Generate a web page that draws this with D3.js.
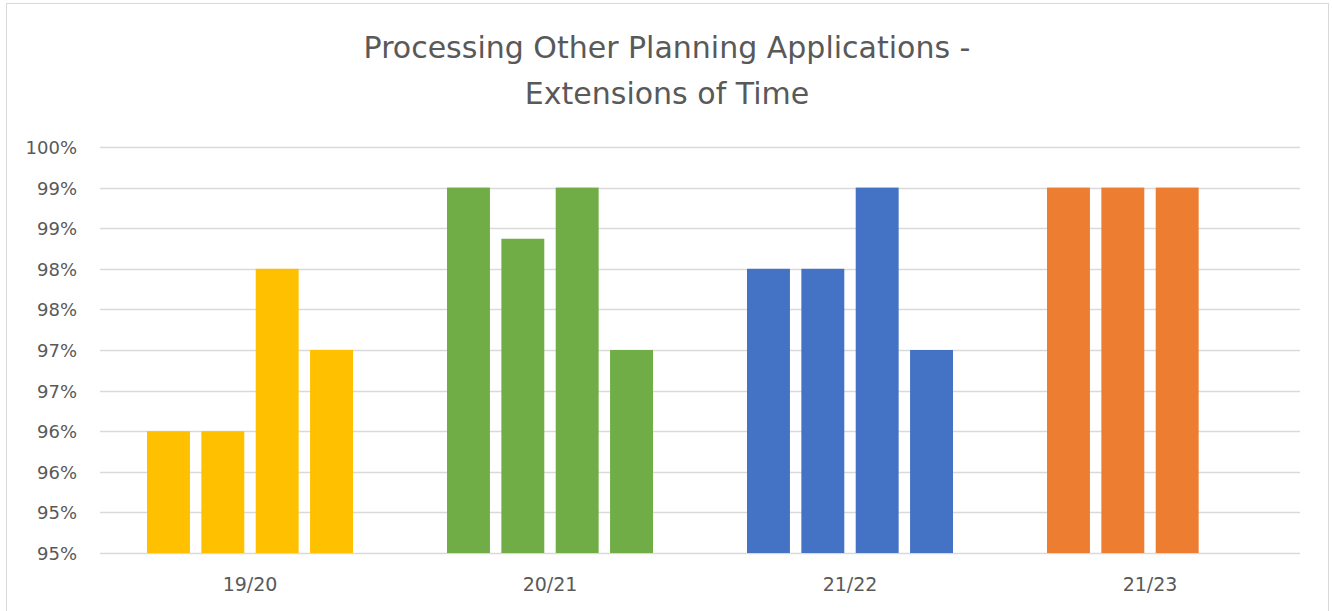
<!DOCTYPE html>
<html><head><meta charset="utf-8">
<script src="https://cdn.jsdelivr.net/npm/d3@7"></script>
<style>body{margin:0;background:#fff;} svg{display:block;}</style>
</head><body>
<svg id="c" width="1332" height="611"></svg>
<script>
const categories = ["19/20", "20/21", "21/22", "21/23"];
const series1 = [96.5, 99.5, 98.5, 99.5];
const series2 = [96.5, 98.87, 98.5, 99.5];
const series3 = [98.5, 99.5, 99.5, 99.5];
const series4 = [97.5, 97.5, 97.5, null];
const categoryColors = ["#FFC000", "#70AD47", "#4472C4", "#ED7D31"];
const tickValues = [95, 95.5, 96, 96.5, 97, 97.5, 98, 98.5, 99, 99.5, 100];
const tickLabels = ["95%", "95%", "96%", "96%", "97%", "97%", "98%", "98%", "99%", "99%", "100%"];
const titleLines = ["Processing Other Planning Applications -", "Extensions of Time"];

(function () {
const seriesList = [series1, series2, series3, series4];
const svg = d3.select("#c");
const font = "'DejaVu Sans', 'Liberation Sans', sans-serif";
const textColor = "#595959";

svg.append("rect").attr("x", 6.5).attr("y", 3.5).attr("width", 1322).attr("height", 620)
  .attr("fill", "#fff").attr("stroke", "#d9d9d9").attr("stroke-width", 1);

const pLeft = 100, pRight = 1300, pTop = 147, pBottom = 553;
const y = d3.scaleLinear().domain([95, 100]).range([pBottom, pTop]);
const x0 = d3.scaleBand().domain(categories).range([pLeft, pRight]).padding(0);
const x1 = d3.scaleBand().domain(d3.range(4)).range([47, x0.bandwidth() - 47]).paddingInner(0.21).paddingOuter(0);

svg.append("g").selectAll("line").data(tickValues).join("line")
  .attr("x1", pLeft).attr("x2", pRight)
  .attr("y1", d => Math.round(y(d)) + 0.5).attr("y2", d => Math.round(y(d)) + 0.5)
  .attr("stroke", "#d9d9d9").attr("stroke-width", 1.5);

const yAxis = d3.axisLeft(y).tickValues(tickValues).tickFormat((d, i) => tickLabels[i]).tickSize(0).tickPadding(0);
const ya = svg.append("g").attr("transform", `translate(${pLeft - 23},0)`).call(yAxis);
ya.select(".domain").remove();
ya.selectAll("text").attr("font-family", font).attr("font-size", 18).attr("fill", textColor).attr("dy", "0.36em");

const cells = [];
categories.forEach((c, ci) => seriesList.forEach((s, si) => {
  if (s[ci] != null) cells.push({c, ci, si, v: s[ci]});
}));
svg.append("g").selectAll("rect").data(cells).join("rect")
  .attr("x", d => x0(d.c) + x1(d.si))
  .attr("width", x1.bandwidth())
  .attr("y", d => y(d.v))
  .attr("height", d => y(95) - y(d.v))
  .attr("fill", d => categoryColors[d.ci]);

const xAxis = d3.axisBottom(x0).tickSize(0).tickPadding(0);
const xa = svg.append("g").attr("transform", `translate(0,${pBottom + 24})`).call(xAxis);
xa.select(".domain").remove();
xa.selectAll("text").attr("font-family", font).attr("font-size", 19).attr("fill", textColor);

svg.append("g").selectAll("text").data(titleLines).join("text")
  .attr("x", 667).attr("y", (d, i) => 58 + i * 46)
  .attr("text-anchor", "middle").attr("font-family", font).attr("font-size", 30)
  .attr("fill", textColor).text(d => d);
})();
</script>
</body></html>
